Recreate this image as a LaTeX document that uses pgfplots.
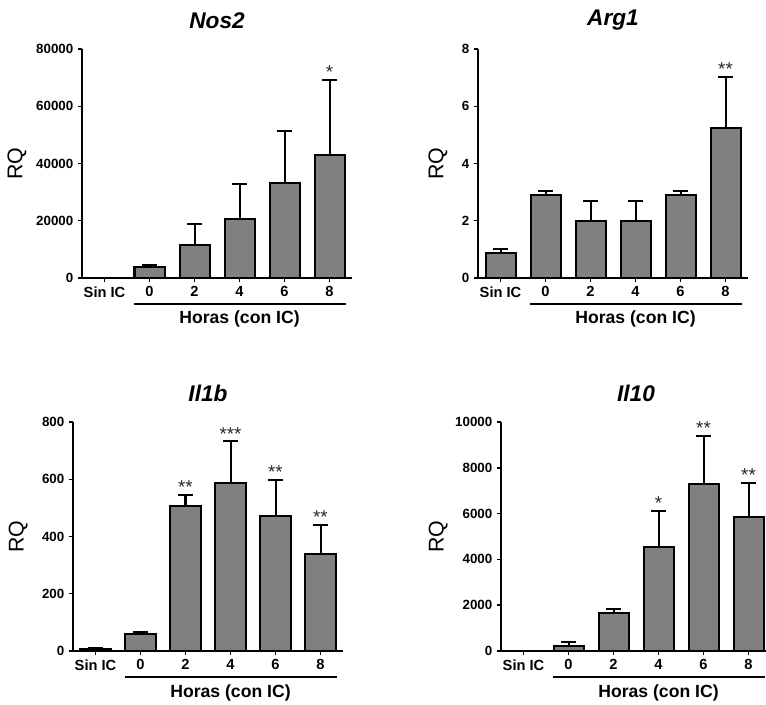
\documentclass[border=0pt]{standalone}
\usepackage{pgfplots}
\pgfplotsset{compat=1.18}
\usepackage{fontspec}
\setmainfont{Liberation Sans}
\definecolor{barg}{RGB}{128,128,128}
\pgfplotsset{
 panel/.style={
  scale only axis, width=202.5pt, height=171.75pt,
  axis lines=left, axis line style={-, line width=1.5pt, black},
  xmin=-0.5, xmax=5.5, ymin=0,
  xtick={0,...,5}, xticklabels={Sin IC,0,2,4,6,8},
  tick align=outside, major tick length=3pt,
  tick style={black, line width=1.1pt},
  scaled y ticks=false,
  /pgf/number format/1000 sep={}, /pgf/number format/assume math mode=true,
  ticklabel style={font=\bfseries\fontsize{10}{12}\selectfont},
  xticklabel style={font=\bfseries\fontsize{11}{13}\selectfont},
  title style={at={(axis description cs:0.5,1.1245)}, anchor=center, yshift=-6pt, font=\bfseries\itshape\fontsize{17}{20}\selectfont},
  xlabel={Horas (con IC)},
  xlabel style={at={(axis description cs:0.5833,-0.181)}, anchor=center, font=\bfseries\fontsize{13.2}{16}\selectfont},
  ylabel={RQ},
  ylabel style={anchor=center, font=\fontsize{16}{19}\selectfont},
  clip=false,
 },
 bars/.style={ybar, bar width=22.5pt, fill=barg, draw=black, line width=1.5pt,
   error bars/y dir=plus, error bars/y explicit,
   error bars/error bar style={line width=1.5pt, black},
   error bars/error mark options={rotate=90, black, line width=1.5pt, mark size=5.6pt}},
 stars/.style={draw=none, point meta=explicit symbolic, nodes near coords,
   nodes near coords style={anchor=base, inner sep=0pt, yshift=1pt, font=\fontsize{14}{16}\selectfont, text=black!85}},
}
\newcommand{\horasline}{\draw[line width=1.5pt] (axis description cs:0.1926,-0.1135) -- (axis description cs:0.978,-0.1135);}
\begin{document}
\begin{tikzpicture}
\useasboundingbox (0,0) rectangle (574.5pt,528pt);
\clip (0,0) rectangle (574.5pt,528pt);
% Nos2
\begin{axis}[panel, at={(61.5pt,319.5pt)}, anchor=south west, title={Nos2},
  ymax=80000, ytick={0,20000,...,80000}, ylabel style={at={(axis description cs:-0.2407,0.5)}}]
\addplot[bars] table[x=x, y=y, y error=e] {
x y e
0 0 0
1 3700 950
2 11700 7000
3 20700 12000
4 33300 17900
5 42900 26400
};
\addplot[stars] coordinates {(5,69300) [*]};
\horasline
\end{axis}
% Arg1
\begin{axis}[panel, at={(358.5pt,319.5pt)}, anchor=south west, title={Arg1},
  ymax=8, ytick={0,2,...,8}, ylabel style={at={(axis description cs:-0.148,0.5)}}]
\addplot[bars] table[x=x, y=y, y error=e] {
x y e
0 0.89 0.14
1 2.89 0.14
2 2.00 0.70
3 2.00 0.70
4 2.89 0.14
5 5.25 1.77
};
\addplot[stars] coordinates {(5,7.02) [**]};
\horasline
\end{axis}
% Il1b
\begin{axis}[panel, at={(54.75pt,39.75pt)}, anchor=south west, title={Il1b},
  ymax=800, ytick={0,200,...,800}, ylabel style={at={(axis description cs:-0.203,0.5)}}]
\addplot[bars] table[x=x, y=y, y error=e] {
x y e
0 6 3
1 58 8
2 508 38
3 588 144
4 473 125
5 338 102
};
\addplot[stars] coordinates {(2,546) [**] (3,732) [***] (4,598) [**] (5,440) [**]};
\horasline
\end{axis}
% Il10
\begin{axis}[panel, at={(375.75pt,39.75pt)}, anchor=south west, title={Il10},
  ymax=10000, ytick={0,2000,...,10000}, ylabel style={at={(axis description cs:-0.233,0.5)}}]
\addplot[bars] table[x=x, y=y, y error=e] {
x y e
0 0 0
1 204 205
2 1664 161
3 4526 1605
4 7285 2102
5 5854 1504
};
\addplot[stars] coordinates {(3,6131) [*] (4,9387) [**] (5,7358) [**]};
\horasline
\end{axis}
\end{tikzpicture}
\end{document}
